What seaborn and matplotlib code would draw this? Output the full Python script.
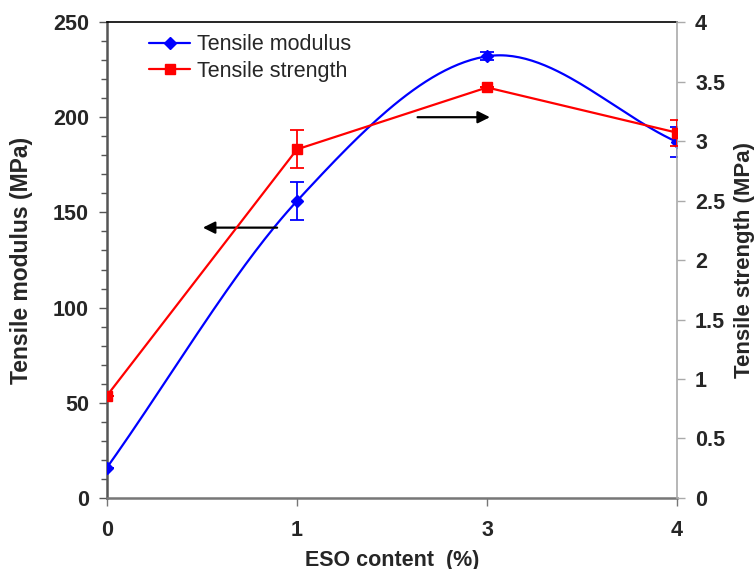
import numpy as np
import pandas as pd
import matplotlib
matplotlib.use("Agg")
import matplotlib.pyplot as plt
from matplotlib.lines import Line2D
import seaborn as sns

# ---- data ----
eso_labels = ["0", "1", "3", "4"]
modulus = [16, 156, 232, 187]
modulus_err = [0, 10, 2, 8]
strength = [0.86, 2.93, 3.45, 3.07]
strength_err = [0, 0.16, 0, 0.11]

sns.set_theme(style="white")
plt.rcParams['font.family'] = ['Liberation Sans', 'DejaVu Sans']

fig = plt.figure(figsize=(7.55, 5.69), dpi=100)
ax = fig.add_axes([0.1417, 0.1248, 0.755, 0.8365])
ax2 = ax.twinx()

xpos = np.arange(len(eso_labels), dtype=float)

# smooth curve (Catmull-Rom through the data points, like Excel smoothed line)
def catmull(xs, ys, n=60):
    px = np.concatenate([[2*xs[0]-xs[1]], xs, [2*xs[-1]-xs[-2]]])
    py = np.concatenate([[2*ys[0]-ys[1]], ys, [2*ys[-1]-ys[-2]]])
    ox, oy = [], []
    for i in range(1, len(px)-2):
        t = np.linspace(0, 1, n)
        for arr, out in ((px, ox), (py, oy)):
            p0, p1, p2, p3 = arr[i-1], arr[i], arr[i+1], arr[i+2]
            out.extend(0.5*((2*p1) + (-p0+p2)*t + (2*p0-5*p1+4*p2-p3)*t**2 + (-p0+3*p1-3*p2+p3)*t**3))
    return np.array(ox), np.array(oy)

sx, sy = catmull(xpos, np.array(modulus, dtype=float))
smooth = pd.DataFrame({"x": sx, "y": sy})
sns.lineplot(data=smooth, x="x", y="y", ax=ax, color="#0000ff", lw=1.6, sort=False, zorder=3)
ax.errorbar(xpos, modulus, yerr=modulus_err, fmt="D", color="#0000ff", ms=6,
            capsize=5, elinewidth=1.3, capthick=1.3, zorder=4)

df2 = pd.DataFrame({"x": xpos, "y": strength})
sns.lineplot(data=df2, x="x", y="y", ax=ax2, color="#ff0000", lw=1.6, zorder=3)
ax2.errorbar(xpos, strength, yerr=strength_err, fmt="s", color="#ff0000", ms=7,
             capsize=5, elinewidth=1.3, capthick=1.3, zorder=4)

ax.set_xlim(0, 3)
ax.set_ylim(0, 250)
ax2.set_ylim(0, 4)
ax.set_xticks(xpos)
ax.set_xticklabels(eso_labels)
ax.set_yticks(np.arange(0, 251, 50))
ax.set_yticks(np.arange(0, 251, 10), minor=True)
ax2.set_yticks(np.arange(0, 4.01, 0.5))
ax2.set_yticklabels(["0", "0.5", "1", "1.5", "2", "2.5", "3", "3.5", "4"])

for a in (ax, ax2):
    a.tick_params(labelsize=15.5)
    for lab in a.get_yticklabels() + a.get_xticklabels():
        lab.set_fontweight("bold")
ax.tick_params(axis="y", which="major", direction="out", length=6, width=1, color="#555555", left=True, pad=7)
ax.tick_params(axis="y", which="minor", direction="out", length=4, width=1, color="#555555", left=True)
ax.tick_params(axis="x", direction="out", length=6, width=1, color="#777777", bottom=True, pad=10)
ax2.tick_params(axis="y", direction="out", length=6, width=1, color="#aaaaaa", right=True, pad=7)

ax.spines["left"].set_color("#555555")
ax.spines["left"].set_linewidth(1.8)
ax.spines["bottom"].set_color("#777777")
ax.spines["bottom"].set_linewidth(1.8)
ax.spines["top"].set_color("#000000")
ax.spines["top"].set_linewidth(1.2)
ax2.spines["right"].set_color("#aaaaaa")
ax2.spines["right"].set_linewidth(1.2)
ax.spines["right"].set_visible(False)
for s in ("left", "bottom", "top"):
    ax2.spines[s].set_visible(False)

ax.set_xlabel("ESO content  (%)", fontsize=15.5, fontweight="bold", labelpad=6)
ax.set_ylabel("Tensile modulus (MPa)", fontsize=16.5, fontweight="bold", labelpad=14)
ax2.set_ylabel("Tensile strength (MPa)", fontsize=16, fontweight="bold", labelpad=6)

# arrows
ax.annotate("", xy=(0.49, 142), xytext=(0.91, 142),
            arrowprops=dict(arrowstyle="-|>", color="black", lw=1.6, mutation_scale=18))
ax2.annotate("", xy=(2.03, 3.2), xytext=(1.62, 3.2),
             arrowprops=dict(arrowstyle="-|>", color="black", lw=1.6, mutation_scale=18))

handles = [Line2D([], [], color="#0000ff", marker="D", ms=6, lw=1.6),
           Line2D([], [], color="#ff0000", marker="s", ms=7, lw=1.6)]
leg = ax2.legend(handles, ["Tensile modulus", "Tensile strength"], loc="upper left",
                 bbox_to_anchor=(0.04, 1.015), frameon=False, fontsize=15.5,
                 handlelength=1.9, handletextpad=0.3, labelspacing=0.25)

fig.savefig("out.png", dpi=100)
